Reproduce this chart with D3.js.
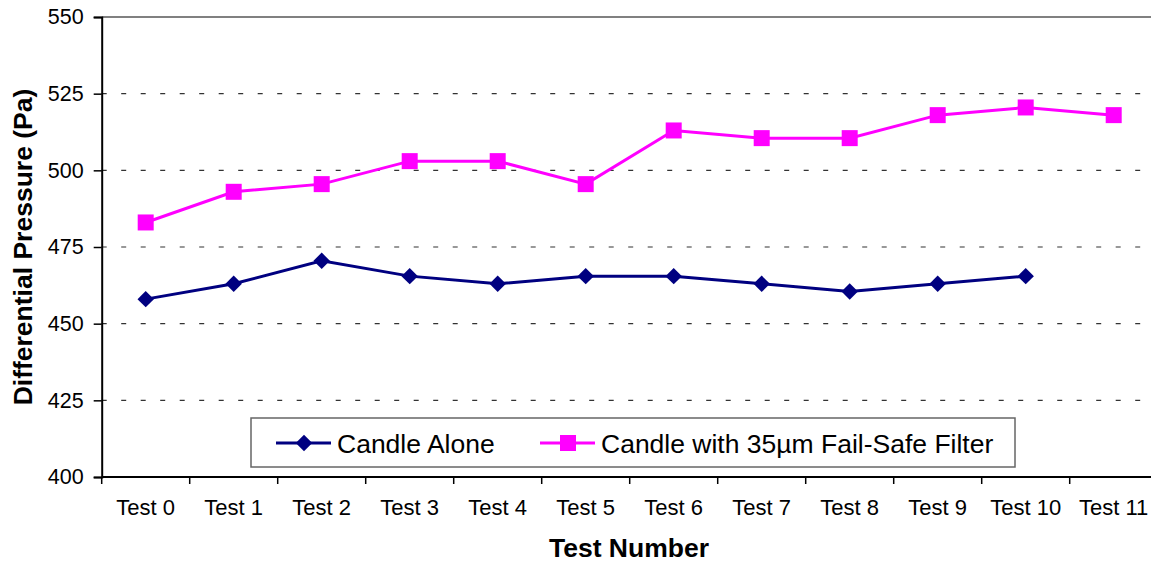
<!DOCTYPE html>
<html lang="en">
<head>
<meta charset="utf-8">
<title>Differential Pressure</title>
<script src="https://cdn.jsdelivr.net/npm/d3@7"></script>
<style>
  body { margin: 0; background: #fff; }
  text { font-family: "Liberation Sans", Arial, sans-serif; fill: #000; }
</style>
</head>
<body>
<div id="chart"></div>
<script>
var categories = ["Test 0", "Test 1", "Test 2", "Test 3", "Test 4", "Test 5",
                  "Test 6", "Test 7", "Test 8", "Test 9", "Test 10", "Test 11"];
var candleAlone = [458, 463, 470.5, 465.5, 463, 465.5, 465.5, 463, 460.5, 463, 465.5, null];
var candleFilter = [483, 493, 495.5, 503, 503, 495.5, 513, 510.5, 510.5, 518, 520.5, 518];
var yTicks = [400, 425, 450, 475, 500, 525, 550];
var seriesNames = ["Candle Alone", "Candle with 35\u00b5m Fail-Safe Filter"];

var w = 1151, h = 563;
var plotL = 101.7, plotR = 1157.7, plotT = 17, plotB = 477;

var svg = d3.select("#chart").append("svg")
  .attr("width", w).attr("height", h);

var x = d3.scaleBand().domain(categories).range([plotL, plotR]);
var y = d3.scaleLinear().domain([400, 550]).range([plotB, plotT]);
var cx = function(i) { return x(categories[i]) + x.bandwidth() / 2; };

// gridlines
svg.append("g").selectAll("line")
  .data(yTicks.filter(function(d) { return d > 400 && d < 550; }))
  .enter().append("line")
  .attr("x1", plotL).attr("x2", w)
  .attr("y1", function(d) { return y(d); })
  .attr("y2", function(d) { return y(d); })
  .attr("stroke", "#333").attr("stroke-width", 1.2)
  .attr("stroke-dasharray", "5,14.5");

// top border
svg.append("line")
  .attr("x1", plotL).attr("x2", w)
  .attr("y1", y(550)).attr("y2", y(550))
  .attr("stroke", "#808080").attr("stroke-width", 2);

// y axis
var yAxis = svg.append("g")
  .attr("transform", "translate(" + plotL + ",0)")
  .call(d3.axisLeft(y).tickValues(yTicks).tickSize(8).tickPadding(10));
yAxis.select(".domain").attr("stroke", "#000").attr("stroke-width", 2);
yAxis.selectAll(".tick line").attr("stroke", "#000").attr("stroke-width", 1.5);
yAxis.selectAll("text").style("font-size", "21.5px")
  .style("font-family", "'Liberation Sans', Arial, sans-serif");

// x axis
var xAxis = svg.append("g")
  .attr("transform", "translate(0," + plotB + ")")
  .call(d3.axisBottom(x).tickSize(0));
xAxis.select(".domain").remove();
xAxis.selectAll("text").attr("y", 38).attr("dy", 0).style("font-size", "22px")
  .style("font-family", "'Liberation Sans', Arial, sans-serif");
svg.append("line")
  .attr("x1", plotL).attr("x2", w)
  .attr("y1", plotB).attr("y2", plotB)
  .attr("stroke", "#000").attr("stroke-width", 2);
svg.append("g").selectAll("line")
  .data(categories)
  .enter().append("line")
  .attr("x1", function(d) { return x(d); })
  .attr("x2", function(d) { return x(d); })
  .attr("y1", plotB).attr("y2", plotB + 7)
  .attr("stroke", "#000").attr("stroke-width", 1.5);

// axis titles
svg.append("text")
  .attr("x", 629).attr("y", 557)
  .attr("text-anchor", "middle")
  .style("font-size", "26.5px").style("font-weight", "bold")
  .text("Test Number");
svg.append("text")
  .attr("transform", "translate(32,247) rotate(-90)")
  .attr("text-anchor", "middle")
  .style("font-size", "26.5px").style("font-weight", "bold")
  .text("Differential Pressure (Pa)");

// diamond = square turned 45 degrees
var diamond = d3.symbol().type(d3.symbolSquare).size(135);
var navy = "#000080", pink = "#ff00ff";

// series: candle alone
var navyPts = candleAlone.map(function(v, i) { return [i, v]; })
  .filter(function(d) { return d[1] != null; });
svg.append("path")
  .datum(navyPts)
  .attr("fill", "none").attr("stroke", navy).attr("stroke-width", 3)
  .attr("d", d3.line().x(function(d) { return cx(d[0]); }).y(function(d) { return y(d[1]); }));
svg.append("g").selectAll("path")
  .data(navyPts).enter().append("path")
  .attr("transform", function(d) { return "translate(" + cx(d[0]) + "," + y(d[1]) + ") rotate(45)"; })
  .attr("d", diamond).attr("fill", navy);

// series: with filter
var pinkPts = candleFilter.map(function(v, i) { return [i, v]; });
svg.append("path")
  .datum(pinkPts)
  .attr("fill", "none").attr("stroke", pink).attr("stroke-width", 3)
  .attr("d", d3.line().x(function(d) { return cx(d[0]); }).y(function(d) { return y(d[1]); }));
svg.append("g").selectAll("rect")
  .data(pinkPts).enter().append("rect")
  .attr("x", function(d) { return cx(d[0]) - 8; })
  .attr("y", function(d) { return y(d[1]) - 8; })
  .attr("width", 16).attr("height", 16)
  .attr("fill", pink);

// legend
var lg = svg.append("g");
lg.append("rect")
  .attr("x", 251).attr("y", 418).attr("width", 764).attr("height", 49)
  .attr("fill", "#fff").attr("stroke", "#666").attr("stroke-width", 1.5);
lg.append("line").attr("x1", 276).attr("x2", 331).attr("y1", 443).attr("y2", 443)
  .attr("stroke", navy).attr("stroke-width", 3);
lg.append("path").attr("transform", "translate(304,443) rotate(45)").attr("d", diamond).attr("fill", navy);
lg.append("text").attr("x", 337).attr("y", 453)
  .style("font-size", "26.5px").text(seriesNames[0]);
lg.append("line").attr("x1", 540).attr("x2", 595).attr("y1", 443).attr("y2", 443)
  .attr("stroke", pink).attr("stroke-width", 3);
lg.append("rect").attr("x", 560).attr("y", 435).attr("width", 16).attr("height", 16).attr("fill", pink);
lg.append("text").attr("x", 601).attr("y", 453)
  .style("font-size", "26.5px").text(seriesNames[1]);
</script>
</body>
</html>
